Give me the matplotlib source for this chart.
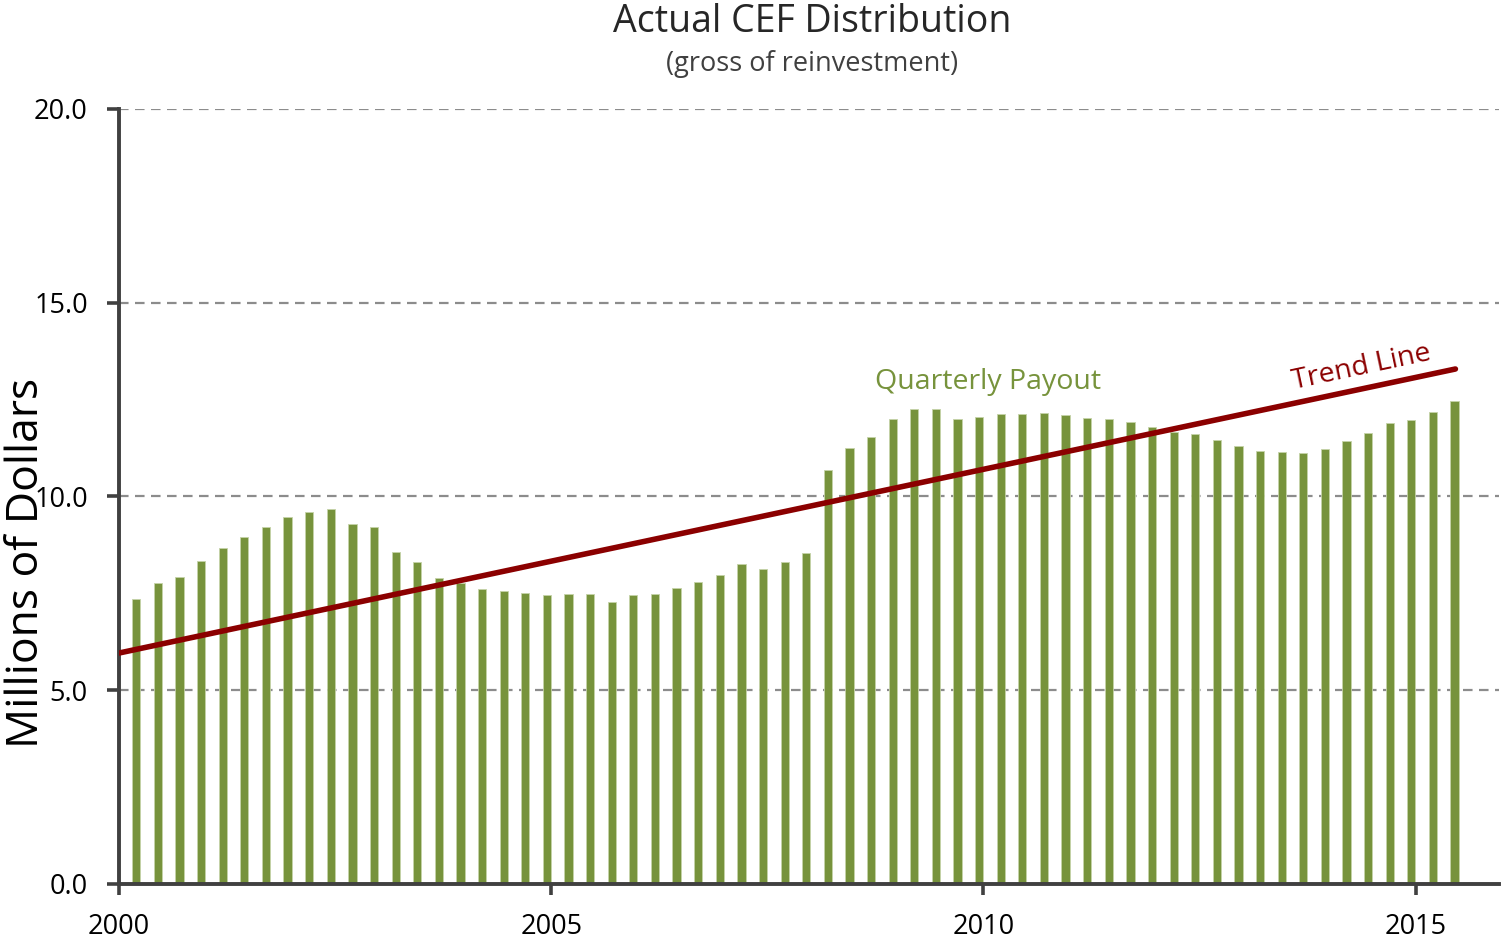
import matplotlib
matplotlib.use("Agg")
import matplotlib.pyplot as plt
import numpy as np

# Quarterly CEF distribution, millions of dollars (2000 Q1 .. 2015 Q2)
payout = [7.35, 7.77, 7.92, 8.34, 8.67, 8.95, 9.21, 9.47, 9.60, 9.68,
          9.29, 9.21, 8.57, 8.31, 7.90, 7.77, 7.61, 7.55, 7.51, 7.46,
          7.48, 7.48, 7.28, 7.46, 7.48, 7.64, 7.79, 7.97, 8.26, 8.13,
          8.31, 8.54, 10.68, 11.25, 11.53, 12.00, 12.26, 12.26, 12.00, 12.05,
          12.13, 12.13, 12.15, 12.10, 12.03, 12.00, 11.92, 11.79, 11.66, 11.61,
          11.46, 11.30, 11.17, 11.15, 11.12, 11.23, 11.43, 11.64, 11.90, 11.97,
          12.18, 12.46]
first_quarter = 2000.2
quarter_step = 0.25

trend_x = [2000.0, 2015.46]
trend_y = [5.96, 13.29]

year_ticks = [2000, 2005, 2010, 2015]
value_ticks = [0, 5, 10, 15, 20]

bar_green = "#77933C"
trend_red = "#8B0000"
axis_gray = "#404040"

plt.rcParams["font.family"] = ["Open Sans", "DejaVu Sans"]

x = first_quarter + quarter_step * np.arange(len(payout))

fig = plt.figure(figsize=(15.01, 9.42), dpi=100)
ax = fig.add_axes([0.0793, 0.0616, 0.9197, 0.8227])

ax.bar(x, payout, width=0.095, color=bar_green, edgecolor="#c5d3a8", linewidth=0.6, zorder=2)
ax.plot(trend_x, trend_y, color=trend_red, linewidth=4.0, solid_capstyle="round", zorder=3)

ax.set_xlim(2000, 2015.97)
ax.set_ylim(0, 20)
ax.set_xticks(year_ticks)
ax.set_xticklabels([str(y) for y in year_ticks], fontsize=19.5)
ax.set_yticks(value_ticks)
ax.set_yticklabels([f"{v:.1f}" for v in value_ticks], fontsize=19.5)

ax.grid(axis="y", linestyle=(0, (4.3, 2.9)), color="#8c8c8c", linewidth=1.6, zorder=0)
ax.set_axisbelow(True)

for side in ["top", "right"]:
    ax.spines[side].set_visible(False)
for side in ["left", "bottom"]:
    ax.spines[side].set_color(axis_gray)
    ax.spines[side].set_linewidth(2.8)

ax.tick_params(axis="y", length=8.5, width=2.6, color=axis_gray, pad=14)
ax.tick_params(axis="x", length=8, width=2.6, color=axis_gray, pad=13)

# y label sits lower than the axes centre in the reference
fig.text(0.0175, 0.402, "Millions of Dollars", rotation=90, ha="center", va="center",
         fontsize=32, color="black")

fig.text(0.541, 0.977, "Actual CEF Distribution", ha="center", va="center",
         fontsize=27, color="#262626")
fig.text(0.541, 0.932, "(gross of reinvestment)", ha="center", va="center",
         fontsize=19.5, color="#404040")

ax.text(2010.05, 12.95, "Quarterly Payout", ha="center", va="center",
        fontsize=20.5, color=bar_green)
ax.text(2014.38, 13.33, "Trend Line", ha="center", va="center",
        fontsize=20.5, color=trend_red, rotation=12)

fig.savefig("out.png", dpi=100)
